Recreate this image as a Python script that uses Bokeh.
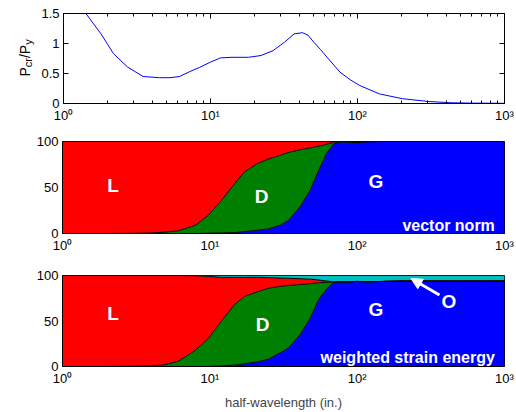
import numpy as np
from bokeh.plotting import figure
from bokeh.models import (ColumnDataSource, FixedTicker, CustomJSTickFormatter, LogAxis,
                          LinearAxis, Label, Arrow, NormalHead, Range1d)
from bokeh.core.properties import value
from bokeh.layouts import column, row
from bokeh.embed import file_html
from bokeh.resources import INLINE

# ---------------- data ----------------
# top panel: critical load ratio vs half-wavelength
hw_curve = [1.0, 1.2, 1.42, 1.8, 2.19, 2.72, 3.48, 4.5, 5.3, 6.15, 7.2, 8.4, 10, 11.7, 14,
            18.1, 22.1, 26.6, 31.8, 37.1, 42.2, 46, 50.5, 56, 62.1, 76.2, 90, 103.6, 141,
            202, 305, 437, 600, 1000]
pcr_py = [2.15, 1.8, 1.5, 1.16, 0.83, 0.61, 0.45, 0.43, 0.43, 0.45, 0.53, 0.60, 0.69, 0.76,
          0.77, 0.77, 0.80, 0.88, 1.02, 1.16, 1.18, 1.14, 1.02, 0.90, 0.77, 0.52, 0.39, 0.30,
          0.16, 0.08, 0.033, 0.012, 0.006, 0.003]

# modal participation (%) panels
hw = [1, 2, 3, 3.9, 5, 6.15, 8, 9.8, 12, 14.7, 17.2, 21, 25, 30, 34, 41, 48, 55, 62, 69,
      76, 90, 100, 115, 150, 200, 300, 500, 700, 1000]

# vector norm
vn_G = [0, 0, 0, 0, 0, 0, 0, 0.3, 0.6, 1, 2, 3.5, 5, 9, 14, 29, 47, 69, 87, 97,
        99.5, 99, 98.8, 99.5, 100, 100, 100, 100, 100, 100]
vn_D = [0, 0, 0.2, 0.5, 1.5, 3, 9, 19.7, 35.4, 53, 65, 72.5, 76, 76, 74, 62, 46, 26, 10, 2,
        0.5, 1, 1.2, 0.5, 0, 0, 0, 0, 0, 0]

# weighted strain energy
se_G = [0, 0, 0, 0, 0, 0, 0, 0, 0.5, 1.5, 3, 5, 8, 15, 20, 35, 53, 74, 85, 92,
        93, 93, 93.5, 93, 93.5, 94, 94, 94, 94, 94]
se_D = [0, 0, 0.2, 0.5, 2, 6, 18, 31, 49.5, 66.5, 74, 77, 78, 73, 69, 55, 38, 18, 7.5, 1,
        0, 0, 0, 0, 0, 0, 0, 0, 0, 0]
se_O = [0, 0, 0, 0, 0, 0, 0.3, 1, 2, 2, 2, 2, 2.3, 2.8, 3, 3.5, 4, 5, 6, 7,
        7, 7, 6.5, 7, 6.5, 6, 6, 6, 6, 6]

x_major = [1, 10, 100, 1000]
x_minor = [m * d for d in (1, 10, 100) for m in range(2, 10)]
y1_ticks = [0, 0.5, 1, 1.5]
y_pct_ticks = [0, 50, 100]

FONT = "Liberation Sans"
COL_G, COL_D, COL_L, COL_O = "#0000ff", "#008000", "#ff0000", "#00bfbf"

LOG_CODE = """
const e = Math.round(Math.log10(tick));
const s = {0: '\\u2070', 1: '\\u00b9', 2: '\\u00b2', 3: '\\u00b3'};
return '10' + (s[e] || '');
"""

W_TOTAL = 516
LEFT, RIGHT = 62, 12


def make_fig(w, h, left, top, bottom, y0, y1):
    p = figure(width=w, height=h, x_axis_type="log", x_range=Range1d(1, 1000),
               y_range=Range1d(y0, y1), output_backend="svg", toolbar_location=None,
               min_border_left=left, min_border_right=RIGHT, min_border_top=top,
               min_border_bottom=bottom)
    p.xgrid.visible = False
    p.ygrid.visible = False
    p.outline_line_color = "black"
    p.outline_line_width = 1
    p.background_fill_color = "white"
    p.border_fill_color = "white"
    for ax in (p.xaxis[0], p.yaxis[0]):
        ax.axis_line_color = "black"
        ax.major_label_text_font = FONT
        ax.major_label_text_font_size = "13px"
        ax.major_label_text_color = "black"
        ax.major_label_standoff = 4
    p.xaxis.ticker = FixedTicker(ticks=x_major, minor_ticks=x_minor)
    p.xaxis.formatter = CustomJSTickFormatter(code=LOG_CODE)
    return p


def hide_ticks(p):
    for ax in (p.xaxis[0], p.yaxis[0]):
        ax.major_tick_in = 0
        ax.major_tick_out = 0
        ax.minor_tick_in = 0
        ax.minor_tick_out = 0


# ---------------- panel 1 ----------------
LBL_W = 38
p1 = make_fig(W_TOTAL - LBL_W, 128, LEFT - LBL_W, 13, 25, 0, 1.5)
p1.yaxis.ticker = FixedTicker(ticks=y1_ticks)
p1.yaxis.formatter = CustomJSTickFormatter(code="return String(tick);")
for ax in (p1.xaxis[0], p1.yaxis[0]):
    ax.major_tick_in = 5
    ax.major_tick_out = 0
    ax.minor_tick_in = 3
    ax.minor_tick_out = 0
p1.yaxis.minor_tick_in = 0
top_ax = LogAxis(ticker=FixedTicker(ticks=x_major, minor_ticks=x_minor),
                 formatter=CustomJSTickFormatter(code="return '';"),
                 major_tick_in=5, major_tick_out=0, minor_tick_in=3, minor_tick_out=0,
                 major_label_standoff=0, axis_line_color="black")
right_ax = LinearAxis(ticker=FixedTicker(ticks=y1_ticks),
                      formatter=CustomJSTickFormatter(code="return '';"),
                      major_tick_in=5, major_tick_out=0, minor_tick_in=0, minor_tick_out=0,
                      major_label_standoff=0, axis_line_color="black")
p1.add_layout(top_ax, "above")
p1.add_layout(right_ax, "right")
p1.line(hw_curve, pcr_py, line_color="#0000ff", line_width=1)

# y label "P_cr/P_y" in a narrow side figure (rotated pieces with subscripts)
pl = figure(width=LBL_W, height=128, x_range=Range1d(0, LBL_W), y_range=Range1d(0, 1.5),
            output_backend="svg", toolbar_location=None, x_axis_location=None,
            y_axis_location=None, min_border_left=0, min_border_right=0,
            min_border_top=13, min_border_bottom=25)
pl.outline_line_color = None
pl.xgrid.visible = False
pl.ygrid.visible = False
lab_src = ColumnDataSource(dict(
    t=["P", "cr", "/P", "y"],
    x=[24, 27.5, 24, 27.5],
    y=[0.45, 0.605, 0.758, 0.978],
    fs=["14px", "11px", "14px", "11px"],
))
pl.text(x="x", y="y", text="t", source=lab_src, angle=np.pi / 2,
        text_font=value(FONT), text_font_size="fs", text_color="black",
        text_align="left", text_baseline="alphabetic")


def stacked(p, G, D, O=None):
    G = np.array(G, float)
    D = np.array(D, float)
    O = np.zeros_like(G) if O is None else np.array(O, float)
    L = np.clip(100 - G - D - O, 0, None)
    src = ColumnDataSource(dict(x=hw, G=G, D=D, L=L, O=O))
    names, cols = ["G", "D", "L"], [COL_G, COL_D, COL_L]
    if O.any():
        names.append("O")
        cols.append(COL_O)
    p.varea_stack(stackers=names, x="x", color=cols, source=src)
    for b in (np.zeros_like(G), G, G + D, G + D + L):
        p.line(hw, b, line_color="black", line_width=1)


def lab(p, x, y, txt, size="19px", align="center", base="middle"):
    p.add_layout(Label(x=x, y=y, text=txt, text_color="white", text_font=FONT,
                       text_font_style="bold", text_font_size=size,
                       text_align=align, text_baseline=base))


# ---------------- panel 2 ----------------
p2 = make_fig(W_TOTAL, 134, LEFT, 13, 29, 0, 100)
p2.yaxis.ticker = FixedTicker(ticks=y_pct_ticks)
hide_ticks(p2)
stacked(p2, vn_G, vn_D)
lab(p2, 2.2, 52.5, "L")
lab(p2, 22.5, 40, "D")
lab(p2, 134, 57, "G")
lab(p2, 860, 8.7, "vector norm", size="16px", align="right", base="alphabetic")

# ---------------- panel 3 ----------------
p3 = make_fig(W_TOTAL, 150, LEFT, 13, 45, 0, 100)
p3.yaxis.ticker = FixedTicker(ticks=y_pct_ticks)
hide_ticks(p3)
stacked(p3, se_G, se_D, se_O)
p3.xaxis.axis_label = "half-wavelength (in.)"
p3.xaxis.axis_label_text_font = FONT
p3.xaxis.axis_label_text_font_size = "13px"
p3.xaxis.axis_label_text_font_style = "normal"
p3.xaxis.axis_label_standoff = 6
lab(p3, 2.2, 58.5, "L")
lab(p3, 22.8, 46, "D")
lab(p3, 134, 63, "G")
lab(p3, 420, 71.5, "O")
p3.add_layout(Arrow(x_start=362, y_start=78.6, x_end=232, y_end=96.7,
                    line_color="white", line_width=3,
                    end=NormalHead(size=11, fill_color="white", line_color="white")))
lab(p3, 860, 10.4, "weighted strain energy", size="16px", align="right", base="alphabetic")

layout = column(row(pl, p1, spacing=0), p2, p3, spacing=0)
open("out.html", "w", encoding="utf-8").write(file_html(layout, INLINE))
